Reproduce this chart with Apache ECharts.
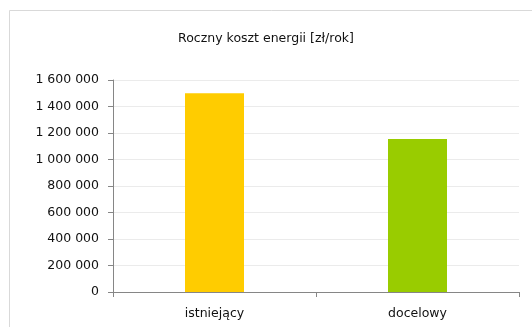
<!DOCTYPE html>
<html><head><meta charset="utf-8">
<script src="https://cdn.jsdelivr.net/npm/echarts@6/dist/echarts.min.js"></script>
<style>html,body{margin:0;padding:0;background:#fff}#c{width:532px;height:327px}</style>
</head><body><div id="c"></div>
<script>
const title = "Roczny koszt energii [zł/rok]";
const categories = ["istniejący", "docelowy"];
const values = [1500000, 1155000];
const barColors = ["#ffcc00", "#99cc00"];
const yMin = 0, yMax = 1600000, yStep = 200000;

function fmt(v){ return String(v).replace(/\B(?=(\d{3})+(?!\d))/g, " "); }

const chart = echarts.init(document.getElementById('c'), null, {renderer:'canvas'});
chart.setOption({
  animation:false,
  backgroundColor:'#fff',
  textStyle:{fontFamily:'DejaVu Sans'},
  graphic:[{type:'rect',shape:{x:9.5,y:10.5,width:540,height:340},style:{fill:'none',stroke:'#d9d9d9',lineWidth:1},silent:true}],
  title:{text:title,left:'center',top:27,textStyle:{fontSize:12.5,fontWeight:'normal',color:'#111',fontFamily:'DejaVu Sans'}},
  grid:{left:113,right:13,top:80,bottom:35,containLabel:false},
  xAxis:{type:'category',data:categories,
    axisLine:{lineStyle:{color:'#868686'}},
    axisTick:{show:true,length:5,lineStyle:{color:'#868686'}},
    axisLabel:{color:'#111',fontSize:12.5,margin:15}},
  yAxis:{type:'value',min:yMin,max:yMax,interval:yStep,
    axisLine:{show:true,lineStyle:{color:'#868686'}},
    axisTick:{show:true,length:5,lineStyle:{color:'#868686'}},
    splitLine:{lineStyle:{color:'#ebebeb'}},
    axisLabel:{color:'#111',fontSize:12.5,margin:14,formatter:fmt}},
  series:[{type:'bar',barWidth:59,
    data:values.map((v,i)=>({value:v,itemStyle:{color:barColors[i]}}))}]
});
</script></body></html>
